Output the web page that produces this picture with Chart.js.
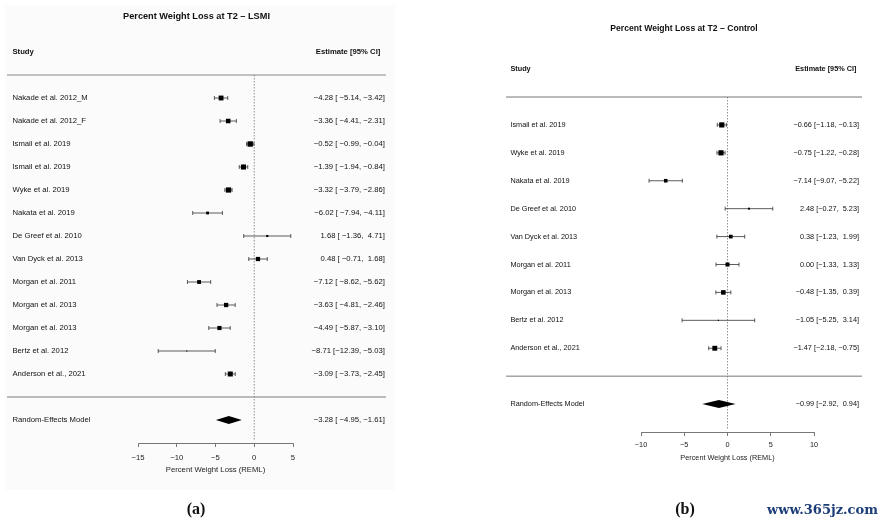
<!DOCTYPE html>
<html>
<head>
<meta charset="utf-8">
<script src="https://cdn.jsdelivr.net/npm/chart.js@4/dist/chart.umd.min.js"></script>
<style>
html, body { margin: 0; padding: 0; background: #fff; width: 888px; height: 526px; overflow: hidden; }
#bgA { position: absolute; left: 5px; top: 5px; width: 390px; height: 485px; background: #fbfbfb; }
canvas { position: absolute; top: 0; }
#chartA { left: 0; }
#chartB { left: 444px; }
.tag { position: absolute; top: 500px; line-height: 20px; font: bold 16px "Liberation Serif", serif; color: #111; transform: translateX(-50%); }
#mark { position: absolute; left: 767px; top: 502px; line-height: 18px; font: bold 13px "DejaVu Serif", serif; color: #1c3d78; }
</style>
</head>
<body>
<div id="bgA"></div>
<canvas id="chartA" width="444" height="526"></canvas>
<canvas id="chartB" width="444" height="526"></canvas>
<div class="tag" style="left:196px">(a)</div>
<div class="tag" style="left:685px">(b)</div>
<div id="mark">www.365jz.com</div>
<script>
// LSMI group
const lsmiStudies = ["Nakade et al. 2012_M", "Nakade et al. 2012_F", "Ismail et al. 2019", "Ismail et al. 2019",
  "Wyke et al. 2019", "Nakata et al. 2019", "De Greef et al. 2010", "Van Dyck et al. 2013", "Morgan et al. 2011",
  "Morgan et al. 2013", "Morgan et al. 2013", "Bertz et al. 2012", "Anderson et al., 2021"];
const lsmiEst = [-4.28, -3.36, -0.52, -1.39, -3.32, -6.02, 1.68, 0.48, -7.12, -3.63, -4.49, -8.71, -3.09];
const lsmiLo = [-5.14, -4.41, -0.99, -1.94, -3.79, -7.94, -1.36, -0.71, -8.62, -4.81, -5.87, -12.39, -3.73];
const lsmiHi = [-3.42, -2.31, -0.04, -0.84, -2.86, -4.11, 4.71, 1.68, -5.62, -2.46, -3.10, -5.03, -2.45];
const lsmiWeight = [8.7, 8.3, 9.4, 9.0, 9.2, 6.1, 5.2, 7.9, 7.4, 8.0, 7.8, 4.0, 8.9];
const lsmiPooled = [-3.28, -4.95, -1.61];

// Control group
const ctrlStudies = ["Ismail et al. 2019", "Wyke et al. 2019", "Nakata et al. 2019", "De Greef et al. 2010",
  "Van Dyck et al. 2013", "Morgan et al. 2011", "Morgan et al. 2013", "Bertz et al. 2012", "Anderson et al., 2021"];
const ctrlEst = [-0.66, -0.75, -7.14, 2.48, 0.38, 0.00, -0.48, -1.05, -1.47];
const ctrlLo = [-1.18, -1.22, -9.07, -0.27, -1.23, -1.33, -1.35, -5.25, -2.18];
const ctrlHi = [-0.13, -0.28, -5.22, 5.23, 1.99, 1.33, 0.39, 3.14, -0.75];
const ctrlWeight = [15.6, 15.6, 10.3, 5.1, 10.7, 11.8, 13.5, 2.5, 14.6];
const ctrlPooled = [-0.99, -2.92, 0.94];

const FONT = '"Liberation Sans", Arial, sans-serif';
const minus = s => s.replace(/-/g, "\u2212");
const fmt = v => minus(v.toFixed(2));

function line(ctx, x1, y1, x2, y2) {
  ctx.beginPath(); ctx.moveTo(x1, y1); ctx.lineTo(x2, y2); ctx.stroke();
}

function forestPlugin(p) {
  const n = p.studies.length;
  const allLo = p.lo.concat([p.pooled[1]]).map(fmt);
  const allHi = p.hi.concat([p.pooled[2]]).map(fmt);
  const loW = Math.max(...allLo.map(s => s.length));
  const hiW = Math.max(...allHi.map(s => s.length));
  const ciText = (e, l, h) => fmt(e) + " [" + fmt(l).padStart(loW) + ", " + fmt(h).padStart(hiW) + "]";

  return {
    id: "forest",
    beforeDatasetsDraw(chart) {
      const ctx = chart.ctx, x = chart.scales.x, y = chart.scales.y, area = chart.chartArea;
      const xa = x.getPixelForValue(p.xlim[0]), xb = x.getPixelForValue(p.xlim[1]);
      ctx.save();
      ctx.strokeStyle = p.ruleColor; ctx.lineWidth = 1;
      line(ctx, xa, y.getPixelForValue(-1), xb, y.getPixelForValue(-1));
      ctx.strokeStyle = p.sepColor; ctx.lineWidth = p.sepWidth;
      line(ctx, xa, y.getPixelForValue(n), xb, y.getPixelForValue(n));
      // reference line at zero
      const x0 = x.getPixelForValue(0);
      ctx.setLineDash([1.5, 1.5]); ctx.strokeStyle = "#777"; ctx.lineWidth = 0.8;
      line(ctx, x0, area.top, x0, area.bottom - 3);
      ctx.setLineDash([]);
      // confidence intervals
      ctx.strokeStyle = "#333"; ctx.lineWidth = 0.8;
      p.lo.forEach((lo, i) => {
        const yy = y.getPixelForValue(i);
        const a = x.getPixelForValue(lo), b = x.getPixelForValue(p.hi[i]);
        line(ctx, a, yy, b, yy);
        line(ctx, a, yy - 2, a, yy + 2);
        line(ctx, b, yy - 2, b, yy + 2);
      });
      ctx.restore();
    },
    afterDatasetsDraw(chart) {
      const ctx = chart.ctx, x = chart.scales.x, y = chart.scales.y;
      const xl = x.getPixelForValue(p.textLeft), xr = x.getPixelForValue(p.textRight);
      ctx.save();
      // pooled diamond
      const yd = y.getPixelForValue(n + 1);
      ctx.fillStyle = "#000";
      ctx.beginPath();
      ctx.moveTo(x.getPixelForValue(p.pooled[1]), yd);
      ctx.lineTo(x.getPixelForValue(p.pooled[0]), yd - 4);
      ctx.lineTo(x.getPixelForValue(p.pooled[2]), yd);
      ctx.lineTo(x.getPixelForValue(p.pooled[0]), yd + 4);
      ctx.closePath(); ctx.fill();

      ctx.fillStyle = "#111";
      ctx.textBaseline = "middle";
      // title
      ctx.font = "bold " + p.titleSize + "px " + FONT;
      ctx.textAlign = "center";
      ctx.fillText(p.title, (x.getPixelForValue(p.xlim[0]) + x.getPixelForValue(p.xlim[1])) / 2, p.titleY);
      // headers
      ctx.font = "bold " + p.fs + "px " + FONT;
      const yh = y.getPixelForValue(-2);
      ctx.textAlign = "left"; ctx.fillText("Study", xl, yh);
      ctx.textAlign = "right"; ctx.fillText("Estimate [95% CI]", xr - p.headShift, yh);
      // rows
      ctx.font = p.fs + "px " + FONT;
      p.studies.forEach((s, i) => {
        const yy = y.getPixelForValue(i);
        ctx.textAlign = "left"; ctx.fillText(s, xl, yy);
        ctx.textAlign = "right"; ctx.fillText(ciText(p.est[i], p.lo[i], p.hi[i]), xr, yy);
      });
      ctx.textAlign = "left"; ctx.fillText("Random-Effects Model", xl, yd);
      ctx.textAlign = "right"; ctx.fillText(ciText(p.pooled[0], p.pooled[1], p.pooled[2]), xr, yd);
      ctx.restore();
    }
  };
}

function makeForest(id, p) {
  const wMin = Math.min(...p.weight), wMax = Math.max(...p.weight);
  const radii = p.weight.map(w => (0.6 + p.sizeSpan * (w - wMin) / (wMax - wMin)) * Math.SQRT2);
  new Chart(document.getElementById(id), {
    type: "scatter",
    data: {
      datasets: [{
        data: p.est.map((v, i) => ({ x: v, y: i })),
        pointStyle: "rect",
        pointRadius: radii,
        backgroundColor: "#000",
        borderWidth: 0
      }]
    },
    options: {
      responsive: false,
      animation: false,
      events: [],
      layout: { padding: p.padding },
      plugins: { legend: { display: false }, tooltip: { enabled: false } },
      scales: {
        x: {
          type: "linear", min: p.xMin, max: p.xMax,
          afterFit: s => { s.height = p.axisHeight; },
          ticks: { stepSize: 5, padding: p.tickPad, color: "#222", font: { family: FONT, size: p.fs },
            callback: v => minus(String(v)) },
          grid: { drawOnChartArea: false, drawTicks: true, tickLength: 4, color: "#555", lineWidth: 0.8 },
          border: { display: true, color: "#555", width: 0.8 },
          title: { display: true, text: "Percent Weight Loss (REML)", color: "#222",
            font: { family: FONT, size: p.fs }, padding: { top: 0, bottom: p.titlePad } }
        },
        y: { type: "linear", min: -1, max: p.studies.length + 2, reverse: true, display: false }
      }
    },
    plugins: [forestPlugin(p)]
  });
}

makeForest("chartA", {
  studies: lsmiStudies, est: lsmiEst, lo: lsmiLo, hi: lsmiHi, weight: lsmiWeight, pooled: lsmiPooled,
  title: "Percent Weight Loss at T2 \u2013 LSMI", titleY: 16, titleSize: 9.2, fs: 7.7,
  xMin: -15, xMax: 5, xlim: [-31.9, 17.0], textLeft: -31.2, textRight: 16.85, headShift: 4.5,
  padding: { left: 138, right: 151, top: 75, bottom: 47 }, axisHeight: 36, tickPad: 6, titlePad: 4,
  ruleColor: "#888", sepColor: "#bbb", sepWidth: 2, sizeSpan: 2.1
});

makeForest("chartB", {
  studies: ctrlStudies, est: ctrlEst, lo: ctrlLo, hi: ctrlHi, weight: ctrlWeight, pooled: ctrlPooled,
  title: "Percent Weight Loss at T2 \u2013 Control", titleY: 29, titleSize: 8.6, fs: 7.3,
  xMin: -10, xMax: 10, xlim: [-25.6, 15.55], textLeft: -25.1, textRight: 15.2, headShift: 2.5,
  padding: { left: 197, right: 74, top: 97, bottom: 62 }, axisHeight: 32, tickPad: 5, titlePad: 2,
  ruleColor: "#777", sepColor: "#777", sepWidth: 1, sizeSpan: 2.0
});
</script>
</body>
</html>
